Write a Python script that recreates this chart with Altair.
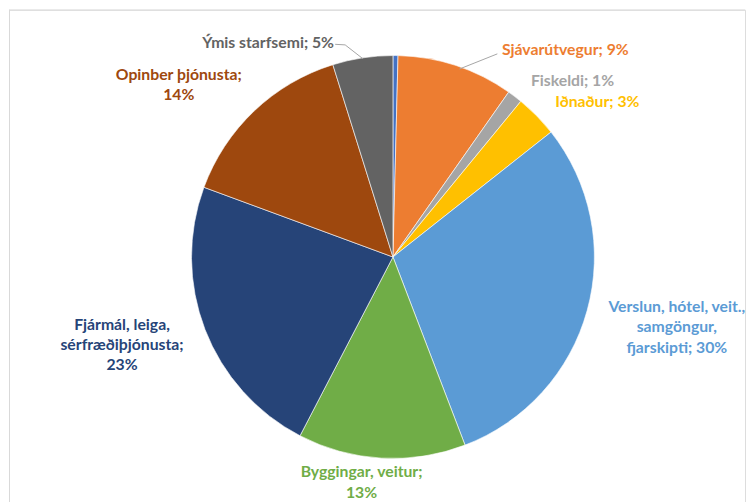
import altair as alt
import pandas as pd

# ---- data ----
sectors = [
    "Óskilgreint",
    "Sjávarútvegur",
    "Fiskeldi",
    "Iðnaður",
    "Verslun, hótel, veit., samgöngur, fjarskipti",
    "Byggingar, veitur",
    "Fjármál, leiga, sérfræðiþjónusta",
    "Opinber þjónusta",
    "Ýmis starfsemi",
]
shares = [0.4, 9.3, 1.2, 3.4, 29.7, 13.4, 22.9, 14.5, 4.8]
label_texts = [
    "",
    "Sjávarútvegur; 9%",
    "Fiskeldi; 1%",
    "Iðnaður; 3%",
    "Verslun, hótel, veit.,\nsamgöngur,\nfjarskipti; 30%",
    "Byggingar, veitur;\n13%",
    "Fjármál, leiga,\nsérfræðiþjónusta;\n23%",
    "Opinber þjónusta;\n14%",
    "Ýmis starfsemi; 5%",
]
colors = ["#4472C4", "#ED7D31", "#A5A5A5", "#FFC000", "#5B9BD5",
          "#70AD47", "#264478", "#9E480E", "#636363"]

# ---- layout (position of each label's first line, polar:
#      degrees clockwise from top, px from pie centre) ----
label_angle = [0, 39.8, 45.6, 52.9, 99.95, 188.3, 256.0, 310.4, 329.7]
label_radius = [0, 270, 252, 257, 289, 218, 280, 282, 248]
leader_group = ["s", "s", "y", "y", "y"]
leader_angle = [19.5, 27.2, 351.4, 347.3, 344.8]
leader_radius = [200, 229, 201, 218, 221]

CX, CY, R = 385, 248, 202
W, H = 738, 494

pie_df = pd.DataFrame({"sector": sectors, "share": shares,
                       "idx": list(range(len(sectors)))})
lab_df = pd.DataFrame({"text": label_texts, "col": colors,
                       "ang": label_angle, "rad": label_radius}).iloc[1:]
lead_df = pd.DataFrame({"g": leader_group, "ang": leader_angle,
                        "rad": leader_radius, "o": list(range(5))})

pie = alt.Chart(pie_df).mark_arc(outerRadius=R, stroke="white",
                                 strokeWidth=0.6).encode(
    theta=alt.Theta("share:Q", stack=True),
    color=alt.Color("sector:N", scale=alt.Scale(domain=sectors, range=colors),
                    legend=None),
    order=alt.Order("idx:Q"),
    x=alt.value(CX), y=alt.value(CY),
)

labels = alt.Chart(lab_df).transform_calculate(
    th="datum.ang * PI / 180"
).mark_text(lineBreak="\n", font="Lato", fontWeight="bold", fontSize=15.8,
            lineHeight=20.5, align="center", baseline="middle").encode(
    text="text:N",
    color=alt.Color("col:N", scale=None),
    theta=alt.Theta("th:Q", scale=None),
    radius=alt.Radius("rad:Q", scale=None),
    x=alt.value(CX), y=alt.value(CY),
)

leaders = alt.Chart(lead_df).transform_calculate(
    px=f"{CX} + datum.rad * sin(datum.ang * PI / 180)",
    py=f"{CY} - datum.rad * cos(datum.ang * PI / 180)",
).mark_line(color="#a6a6a6", strokeWidth=1).encode(
    x=alt.X("px:Q", scale=None, axis=None),
    y=alt.Y("py:Q", scale=None, axis=None),
    detail="g:N",
    order="o:Q",
)

frame_df = pd.DataFrame({"k": [0]})
top_line = alt.Chart(frame_df).mark_rule(color="#d9d9d9").encode(
    x=alt.value(0), x2=alt.value(W), y=alt.value(0.5))
left_line = alt.Chart(frame_df).mark_rule(color="#d9d9d9").encode(
    x=alt.value(0.5), y=alt.value(0), y2=alt.value(H))

chart = alt.layer(top_line, left_line, pie, leaders, labels).properties(
    width=W, height=H, padding=0
).configure_view(stroke=None).configure(background="white")

chart.save("out.html", embed_options={"renderer": "svg", "actions": False})
